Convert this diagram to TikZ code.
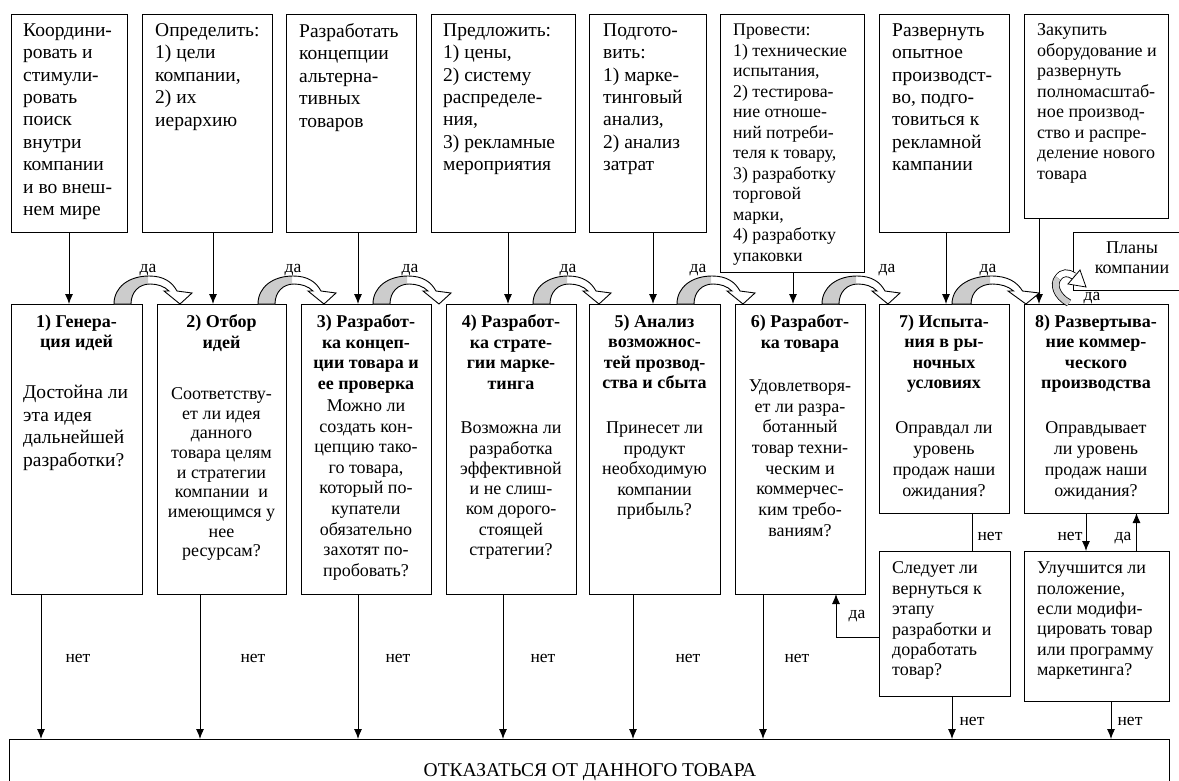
\documentclass[tikz,border=0pt]{standalone}
\usepackage{fontspec}
\setmainfont{Liberation Serif}
\usetikzlibrary{arrows.meta}
\newcommand{\fbig}{\fontsize{19.5}{22.4}\selectfont}
\newcommand{\fmid}{\fontsize{18}{20.5}\selectfont}
\newcommand{\flab}{\fontsize{17.5}{20}\selectfont}
\newcommand{\yesarrow}[3]{% x0, xscale, name
  \begin{scope}[shift={(#1,304)}, xscale=#2]
    \fill[white] \arrowshape;
    \begin{scope}
      \clip (-5,-40) rectangle (34,2);
      \fill[gray!40] \arrowshape;
    \end{scope}
    \draw[line width=0.9pt, line join=miter] \arrowshape;
    \coordinate (#3) at (35,-28);
  \end{scope}}
\newcommand{\arrowshape}{(0,0) .. controls (0,-17) and (15,-28) .. (35,-28) .. controls (50,-28) and (58,-22) .. (63,-13) -- (78,-11) -- (66,0) -- (50,-13) -- (55,-13) .. controls (50,-18) and (43,-20) .. (36,-20) .. controls (25,-20) and (17,-12) .. (17,0) -- cycle}
\tikzset{
  box/.style={draw, line width=0.9pt, anchor=north west, inner sep=0pt, outer sep=0pt},
  txt/.style={inner sep=0pt, execute at begin node={\strut}},
  ttxt/.style={txt, font=\fbig, align=left, anchor=north west},
  t8txt/.style={txt, font=\fmid, align=left, anchor=north west},
  ttl/.style={txt, font=\fmid\bfseries, align=center, anchor=north},
  qc/.style={txt, font=\fmid, align=center, anchor=north},
  ql/.style={txt, font=\fmid, align=left, anchor=north west},
  lab/.style={font=\flab, inner sep=0pt, anchor=base},
  arr/.style={line width=0.9pt, -{Latex[length=10pt,width=8pt]}},
  ln/.style={line width=0.9pt}
}
\begin{document}
\begin{tikzpicture}[x=1pt,y=-1pt]
\useasboundingbox (0,0) rectangle (1179,780);
% top boxes
\node[box, minimum width=116pt, minimum height=218pt] (T1) at (11,14) {};
\node[box, minimum width=130pt, minimum height=218pt] (T2) at (142,14) {};
\node[box, minimum width=130pt, minimum height=218pt] (T3) at (286,14) {};
\node[box, minimum width=144pt, minimum height=218pt] (T4) at (431,14) {};
\node[box, minimum width=117pt, minimum height=218pt] (T5) at (589,14) {};
\node[box, minimum width=144pt, minimum height=258pt] (T6) at (720,14) {};
\node[box, minimum width=130pt, minimum height=218pt] (T7) at (879,14) {};
\node[box, minimum width=144pt, minimum height=204pt] (T8) at (1024,14) {};
\node[box, minimum width=130pt, minimum height=58pt] (P) at (1073,232) {};
\node[ttxt] (t1) at (23,23.3) {Координи-\\ровать и\\стимули-\\ровать\\поиск\\внутри\\компании\\и во внеш-\\нем мире};
\node[ttxt] (t2) at (155,23.3) {Определить:\\1) цели\\компании,\\2) их\\иерархию};
\node[ttxt] (t3) at (299,23.3) {Разработать\\концепции\\альтерна-\\тивных\\товаров};
\node[ttxt] (t4) at (443,23.3) {Предложить:\\1) цены,\\2) систему\\распределе-\\ния,\\3) рекламные\\мероприятия};
\node[ttxt] (t5) at (603,23.3) {Подгото-\\вить:\\1) марке-\\тинговый\\анализ,\\2) анализ\\затрат};
\node[ttxt, font=\fontsize{17.8}{20.5}\selectfont] (t6) at (733,23.65) {Провести:\\1) технические\\испытания,\\2) тестирова-\\ние отноше-\\ний потреби-\\теля к товару,\\3) разработку\\торговой\\марки,\\4) разработку\\упаковки};
\node[ttxt] (t7) at (892,23.3) {Развернуть\\опытное\\производст-\\во, подго-\\товиться к\\рекламной\\кампании};
\node[t8txt] (t8) at (1037,23.65) {Закупить\\оборудование и\\развернуть\\полномасштаб-\\ное производ-\\ство и распре-\\деление нового\\товара};
\node[qc, font=\fontsize{18}{20}\selectfont] (pt) at (1132,242) {Планы\\компании};
% middle boxes
\node[box, minimum width=131pt, minimum height=290pt] (M1) at (11,304) {};
\node[box, minimum width=129pt, minimum height=290pt] (M2) at (157,304) {};
\node[box, minimum width=130pt, minimum height=290pt] (M3) at (301,304) {};
\node[box, minimum width=130pt, minimum height=290pt] (M4) at (446,304) {};
\node[box, minimum width=131pt, minimum height=290pt] (M5) at (589,304) {};
\node[box, minimum width=130pt, minimum height=290pt] (M6) at (735,304) {};
\node[box, minimum width=130pt, minimum height=209pt] (M7) at (879,304) {};
\node[box, minimum width=144pt, minimum height=209pt] (M8) at (1024,304) {};
\node[box, minimum width=131pt, minimum height=145pt] (L7) at (879,551) {};
\node[box, minimum width=145pt, minimum height=150pt] (L8) at (1024,551) {};
\node[box, minimum width=1160pt, minimum height=60pt] (X) at (9,739) {};
% titles
\node[ttl] (h1) at (76.5,314.65) {1) Генера-\\ция идей};
\node[ttl] (h2) at (221.5,314.65) {2) Отбор\\идей};
\node[ttl] (h3) at (366,314.65) {3) Разработ-\\ка концеп-\\ции товара и\\ее проверка};
\node[ttl] (h4) at (511,314.65) {4) Разработ-\\ка страте-\\гии марке-\\тинга};
\node[ttl] (h5) at (654.5,314.65) {5) Анализ\\возможнос-\\тей прозвод-\\ства и сбыта};
\node[ttl] (h6) at (800,314.65) {6) Разработ-\\ка товара};
\node[ttl] (h7) at (944,314.65) {7) Испыта-\\ния в ры-\\ночных\\условиях};
\node[ttl] (h8) at (1096,314.65) {8) Развертыва-\\ние коммер-\\ческого\\производства};
% questions
\node[ttxt] (q1) at (23,385.3) {Достойна ли\\эта идея\\дальнейшей\\разработки?};
\node[qc, font=\fontsize{18}{19.7}\selectfont] (q2) at (221.5,387.2) {Соответству-\\ет ли идея\\данного\\товара целям\\и стратегии\\компании~ и\\имеющимся у\\нее\\ресурсам?};
\node[qc, font=\fontsize{18}{20.6}\selectfont] (q3) at (366,399.6) {Можно ли\\создать кон-\\цепцию тако-\\го товара,\\который по-\\купатели\\обязательно\\захотят по-\\пробовать?};
\node[qc, font=\fontsize{18}{20.3}\selectfont] (q4) at (511,421.8) {Возможна ли\\разработка\\эффективной\\и не слиш-\\ком дорого-\\стоящей\\стратегии?};
\node[qc] (q5) at (654.5,421.65) {Принесет ли\\продукт\\необходимую\\компании\\прибыль?};
\node[qc, font=\fontsize{18}{20.7}\selectfont] (q6) at (800,379.5) {Удовлетворя-\\ет ли разра-\\ботанный\\товар техни-\\ческим и\\коммерчес-\\ким требо-\\ваниям?};
\node[qc, font=\fontsize{18}{21}\selectfont] (q7) at (944,421.3) {Оправдал ли\\уровень\\продаж наши\\ожидания?};
\node[qc, font=\fontsize{18}{21}\selectfont] (q8) at (1096,421.3) {Оправдывает\\ли уровень\\продаж наши\\ожидания?};
\node[ql, font=\fontsize{18}{20.4}\selectfont] (r7) at (892,561.7) {Следует ли\\вернуться к\\этапу\\разработки и\\доработать\\товар?};
\node[ql, font=\fontsize{18}{20.4}\selectfont] (r8) at (1037,561.7) {Улучшится ли\\положение,\\если модифи-\\цировать товар\\или программу\\маркетинга?};
\node[font=\fontsize{19.5}{20}\selectfont, anchor=base, inner sep=0pt] (xt) at (590,776) {ОТКАЗАТЬСЯ ОТ ДАННОГО ТОВАРА};
% top -> middle arrows
\draw[arr] (T1.south) -- (T1.south |- M1.north);
\draw[arr] ([xshift=6pt]T2.south) -- ([xshift=6pt]T2.south |- M2.north);
\draw[arr] ([xshift=7pt]T3.south) -- ([xshift=7pt]T3.south |- M3.north);
\draw[arr] ([xshift=5pt]T4.south) -- ([xshift=5pt]T4.south |- M4.north);
\draw[arr] ([xshift=5.5pt]T5.south) -- ([xshift=5.5pt]T5.south |- M5.north);
\draw[arr] ([xshift=1pt]T6.south) -- ([xshift=1pt]T6.south |- M6.north);
\draw[arr] ([xshift=2pt]T7.south) -- ([xshift=2pt]T7.south |- M7.north);
\draw[arr] ([xshift=-57pt]T8.south) -- ([xshift=-57pt]T8.south |- M8.north);
% middle -> bottom (нет)
\draw[arr] ([xshift=-35.5pt]M1.south) -- ([xshift=-35.5pt]M1.south |- X.north);
\draw[arr] ([xshift=-21.5pt]M2.south) -- ([xshift=-21.5pt]M2.south |- X.north);
\draw[arr] ([xshift=-8pt]M3.south) -- ([xshift=-8pt]M3.south |- X.north);
\draw[arr] ([xshift=-8pt]M4.south) -- ([xshift=-8pt]M4.south |- X.north);
\draw[arr] ([xshift=-21.5pt]M5.south) -- ([xshift=-21.5pt]M5.south |- X.north);
\draw[arr] ([xshift=-37pt]M6.south) -- ([xshift=-37pt]M6.south |- X.north);
\draw[arr] ([xshift=7.5pt]L7.south) -- ([xshift=7.5pt]L7.south |- X.north);
\draw[arr] ([xshift=14.5pt]L8.south) -- ([xshift=14.5pt]L8.south |- X.north);
\draw[ln] ([xshift=28pt]M7.south) -- ([xshift=28pt]M7.south |- L7.north);
\draw[arr] ([xshift=-10pt]M8.south) -- ([xshift=-10pt]M8.south |- L8.north);
\draw[arr] ([xshift=40pt]L8.north) -- ([xshift=40pt]L8.north |- M8.south);
\draw[arr] ([yshift=-13.5pt]L7.west) -| ([xshift=36pt]M6.south);
% labels нет / да
\foreach \xx/\nm in {78/n1,253/n2,398/n3,543/n4,688/n5,797/n6}
  \node[lab] (\nm) at (\xx,662) {нет};
\node[lab] (n7) at (990,540) {нет};
\node[lab] (n8) at (1070,540) {нет};
\node[lab] (d8) at (1123,540) {да};
\node[lab] (d6) at (857,618) {да};
\node[lab] (n9) at (972,725) {нет};
\node[lab] (n10) at (1130,725) {нет};
% curved yes-arrows
\yesarrow{114}{1}{c1}
\yesarrow{258}{1}{c2}
\yesarrow{373}{1}{c3}
\yesarrow{533}{1}{c4}
\yesarrow{677}{1}{c5}
\yesarrow{822}{1}{c6}
\yesarrow{952}{1.12}{c7}
\foreach \xx/\nm in {148/y1,293/y2,410/y3,568/y4,698/y5,887/y6,988/y7}
  \node[lab] (\nm) at (\xx,272) {да};
% small loop near Планы компании
\draw[line width=0.8pt, double=gray!40, double distance=6pt] (1069,303) .. controls (1056,296) and (1053,284) .. (1058,278);
\draw[line width=0.8pt, double=white, double distance=6pt] (1058,278) .. controls (1062,272) and (1068,272) .. (1074,276);
\draw[line width=0.8pt, fill=white] (1068,284) -- (1086,287) -- (1080,270) -- cycle;
\node[lab] (dp) at (1092,300) {да};
\end{tikzpicture}
\end{document}
